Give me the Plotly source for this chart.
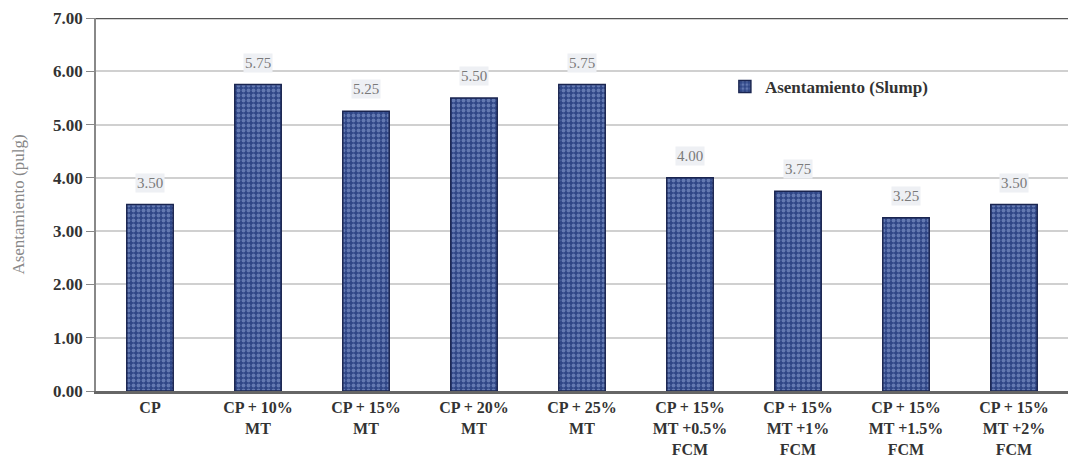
import plotly.graph_objects as go

categories = ["CP", "CP + 10%<br>MT", "CP + 15%<br>MT", "CP + 20%<br>MT", "CP + 25%<br>MT",
              "CP + 15%<br>MT +0.5%<br>FCM", "CP + 15%<br>MT +1%<br>FCM",
              "CP + 15%<br>MT +1.5%<br>FCM", "CP + 15%<br>MT +2%<br>FCM"]
slump = [3.50, 5.75, 5.25, 5.50, 5.75, 4.00, 3.75, 3.25, 3.50]
y_ticks = [0, 1, 2, 3, 4, 5, 6, 7]

serif = "Liberation Serif, Times New Roman, serif"

fig = go.Figure()
fig.add_trace(go.Bar(
    x=categories, y=slump, name="Asentamiento (Slump)",
    marker=dict(color="#2f4686",
                line=dict(color="#1a2550", width=1.5),
                pattern=dict(shape=".", fgcolor="#98acdc", size=5, solidity=0.45)),
    width=0.43,
))

for c, v in zip(categories, slump):
    fig.add_annotation(x=c, y=v, text=f"{v:.2f}", showarrow=False, yshift=22,
                       font=dict(family=serif, size=15, color="#7a7a7a"),
                       bgcolor="#eef0f4", borderpad=1)

fig.add_shape(type="line", xref="paper", yref="y", x0=0, x1=1, y0=7, y1=7,
              line=dict(color="#555555", width=2.5))

fig.update_layout(
    width=1074, height=470,
    margin=dict(l=96, r=6, t=18, b=79),
    paper_bgcolor="white", plot_bgcolor="white",
    showlegend=True,
    legend=dict(x=0.647, y=0.815, xanchor="left", yanchor="middle",
                font=dict(family=serif, size=17, color="#333333", weight="bold"),
                itemwidth=30,
                bgcolor="rgba(255,255,255,0)"),
    font=dict(family=serif),
)
fig.update_xaxes(showline=True, linecolor="#666666", linewidth=2.5,
                 tickfont=dict(family=serif, size=16, color="#333333", weight="bold"),
                 ticks="", range=[-0.5, 8.5])
fig.update_yaxes(range=[0, 7], tickvals=y_ticks, tickformat=".2f",
                 showgrid=True, gridcolor="#d0d0d0", gridwidth=1.5,
                 showline=True, linecolor="#888888", linewidth=1.5,
                 ticks="outside", ticklen=8, tickcolor="#888888",
                 tickfont=dict(family=serif, size=17, color="#333333", weight="bold"),
                 title=dict(text="Asentamiento (pulg)",
                            font=dict(family=serif, size=17, color="#888888"),
                            standoff=24),
                 zeroline=False)

fig.write_html("out.html")
